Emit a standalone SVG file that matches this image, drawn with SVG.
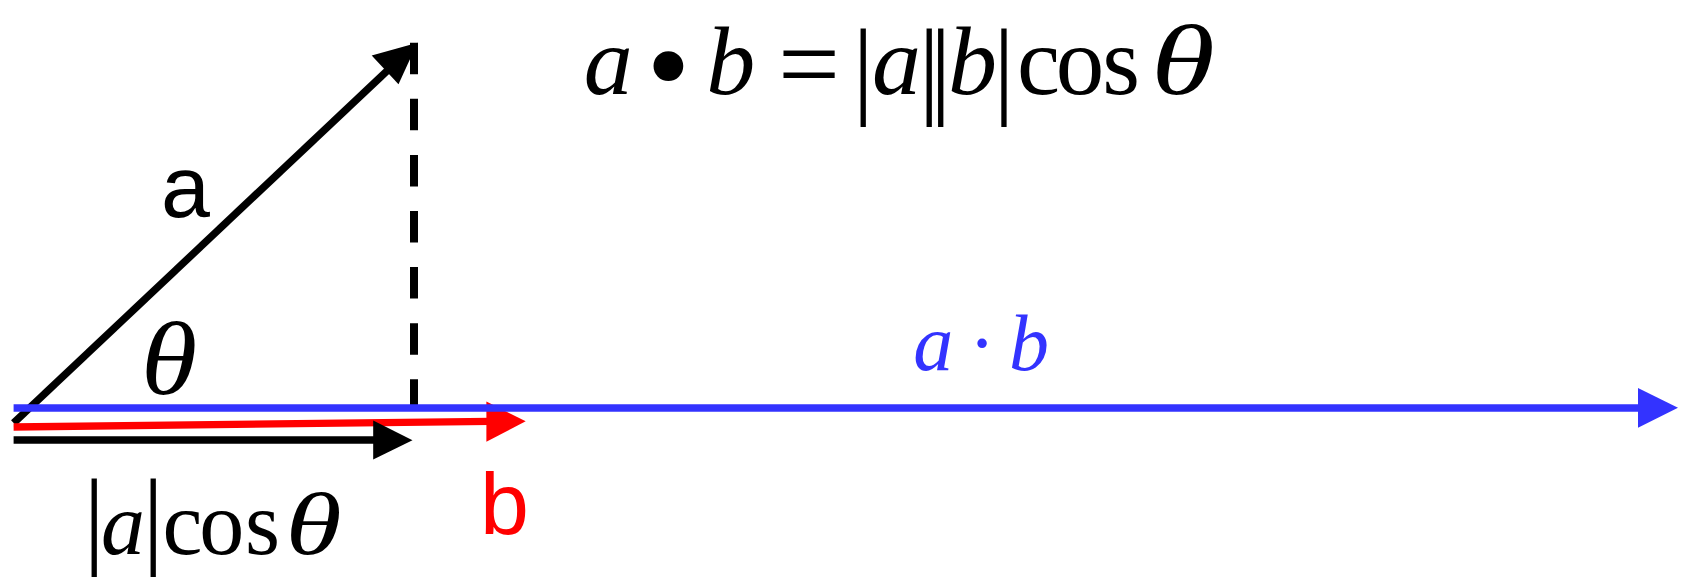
<svg xmlns="http://www.w3.org/2000/svg" width="1682" height="582" viewBox="0 0 1682 582">
<style>
.bk{stroke:#000;stroke-width:7.4;fill:none}
.rd{stroke:#FF0000;stroke-width:7.4;fill:none}
.bl{stroke:#3333FF;stroke-width:7.4;fill:none}
.dash{stroke:#000;stroke-width:8;stroke-dasharray:31.5 24.6;fill:none}
.serif{font-family:"Liberation Serif","Times New Roman",serif}
.sans{font-family:"Liberation Sans",Arial,sans-serif}
.it{font-style:italic}
</style>
<rect width="1682" height="582" fill="#fff"/>
<g id="connectors">
  <line id="proj-dash" class="dash" x1="414" y1="42.7" x2="414" y2="408"/>
  <line id="vec-a" class="bk" x1="13.6" y1="423" x2="388" y2="70"/>
  <polygon fill="#000" points="371.7,55.5 417.5,42.7 398.5,84.3"/>
  <line id="vec-b" class="rd" x1="13.6" y1="427" x2="490" y2="421.4"/>
  <polygon fill="#FF0000" points="486.4,401.6 525.7,421.3 486.4,441.7"/>
  <line id="vec-proj" class="bk" x1="13.6" y1="440" x2="376" y2="440"/>
  <polygon fill="#000" points="373.2,420.6 412.5,440.2 373.2,459.5"/>
  <line id="vec-dot" class="bl" x1="13.6" y1="408" x2="1641" y2="408"/>
  <polygon fill="#3333FF" points="1638,388 1678,407.7 1638,427.7"/>
</g>
<g id="label-a">
  <text class="sans" x="161" y="216.5" font-size="88" fill="#000">a</text>
</g>
<g id="label-b">
  <text class="sans" x="480" y="533.5" font-size="88" fill="#FF0000">b</text>
</g>
<g id="label-theta">
  <text class="serif it" transform="translate(169,394) scale(1.1,1)" x="0" y="0" font-size="104" fill="#000" text-anchor="middle">θ</text>
</g>
<g id="label-proj">
  <text class="serif" fill="#000" text-anchor="middle"><tspan x="94.3" y="553.5" font-size="107">|</tspan><tspan class="it" x="123" y="554" font-size="88">a</tspan><tspan x="153.3" y="553.5" font-size="107">|</tspan><tspan x="182.5 221.7 262.5" y="554" font-size="90">cos</tspan></text>
  <text class="serif it" transform="translate(313.5,554) scale(1.3,1)" x="0" y="0" font-size="88" fill="#000" text-anchor="middle">θ</text>
</g>
<g id="label-dot">
  <text class="serif" fill="#3333FF" text-anchor="middle" y="370" font-size="80"><tspan class="it" x="933.2">a</tspan><tspan x="982">·</tspan><tspan class="it" x="1029">b</tspan></text>
</g>
<g id="formula">
  <text class="serif" fill="#000" text-anchor="middle"><tspan class="it" x="608.3" y="93.5" font-size="98">a</tspan><tspan x="668.3" y="108" font-size="125">•</tspan><tspan class="it" x="730.8" y="93.5" font-size="98">b</tspan><tspan x="809" y="101" font-size="110">=</tspan><tspan x="863.3" y="103.5" font-size="107">|</tspan><tspan class="it" x="896.5" y="93.5" font-size="98">a</tspan><tspan x="929.3 940.7" y="103.5" font-size="107">||</tspan><tspan class="it" x="972.5" y="93.5" font-size="98">b</tspan><tspan x="1004" y="103.5" font-size="107">|</tspan><tspan x="1038.5 1080 1121" y="93.5" font-size="97">cos</tspan></text>
  <text class="serif it" transform="translate(1183,93.5) scale(1.3,1)" x="0" y="0" font-size="100" fill="#000" text-anchor="middle">θ</text>
</g>
</svg>
